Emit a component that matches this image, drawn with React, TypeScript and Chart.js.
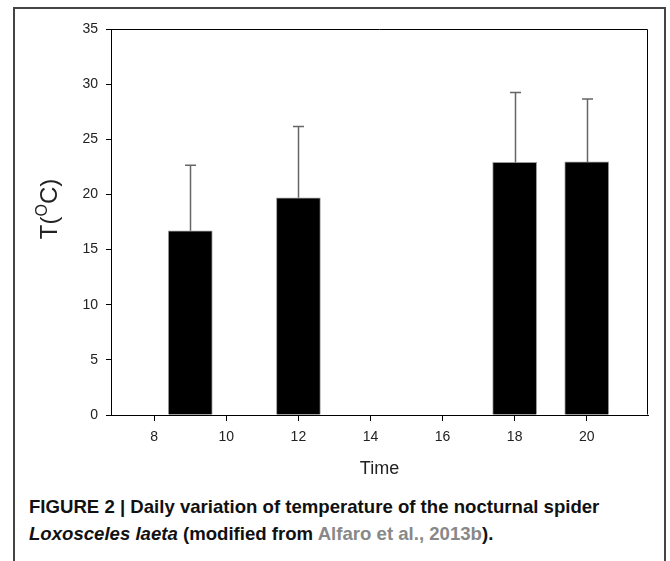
import React, { useEffect, useRef } from "react";
import { Chart, registerables } from "chart.js";

Chart.register(...registerables);

// Data
const times = [9, 12, 18, 20];
const meanTemps = [16.7, 19.7, 22.9, 22.95];
const sdTemps = [5.95, 6.45, 6.35, 5.7];
const xTicks = [8, 10, 12, 14, 16, 18, 20];
const yTicks = [0, 5, 10, 15, 20, 25, 30, 35];

const FONT = "'Liberation Sans', Arial, Helvetica, sans-serif";

const framePlugin = {
  id: "frameBox",
  afterDraw(chart: any) {
    const { ctx, chartArea } = chart;
    const l = Math.round(chartArea.left) + 0.5;
    const t = Math.round(chartArea.top) + 0.5;
    const r = Math.round(chartArea.right) - 0.5;
    const b = Math.round(chartArea.bottom) - 0.5;
    ctx.save();
    ctx.strokeStyle = "#000";
    ctx.lineWidth = 1;
    ctx.beginPath();
    ctx.moveTo(l, t);
    ctx.lineTo(r, t);
    ctx.lineTo(r, b);
    ctx.stroke();
    ctx.restore();
  },
};

const errorBarPlugin = {
  id: "errorBars",
  afterDatasetsDraw(chart: any) {
    const { ctx } = chart;
    const meta = chart.getDatasetMeta(0);
    const yScale = chart.scales.y;
    ctx.save();
    ctx.strokeStyle = "#666";
    ctx.lineWidth = 1.5;
    meta.data.forEach((bar: any, i: number) => {
      const x = Math.round(bar.x) + 0.5;
      const yTop = yScale.getPixelForValue(meanTemps[i]);
      const yErr = yScale.getPixelForValue(meanTemps[i] + sdTemps[i]);
      ctx.beginPath();
      ctx.moveTo(x, yTop);
      ctx.lineTo(x, yErr);
      ctx.moveTo(x - 5.5, yErr);
      ctx.lineTo(x + 5.5, yErr);
      ctx.stroke();
    });
    ctx.restore();
  },
};

const yTitlePlugin = {
  id: "yTitle",
  afterDraw(chart: any) {
    const { ctx } = chart;
    const cx = 50;
    const cy = 209;
    const big = `24px ${FONT}`;
    const small = `16px ${FONT}`;
    ctx.save();
    ctx.fillStyle = "#222";
    ctx.textBaseline = "middle";
    ctx.textAlign = "left";
    ctx.font = big;
    const w1 = ctx.measureText("T(").width;
    const w3 = ctx.measureText("C)").width;
    ctx.font = small;
    const w2 = ctx.measureText("O").width;
    const total = w1 + w2 + w3;
    ctx.translate(cx, cy);
    ctx.rotate(-Math.PI / 2);
    let x = -total / 2;
    ctx.font = big;
    ctx.fillText("T(", x, 0);
    x += w1;
    ctx.font = small;
    ctx.fillText("O", x, -7);
    x += w2;
    ctx.font = big;
    ctx.fillText("C)", x, 0);
    ctx.restore();
  },
};

export default function App() {
  const canvasRef = useRef<HTMLCanvasElement | null>(null);

  useEffect(() => {
    if (!canvasRef.current) return;
    const chart = new Chart(canvasRef.current, {
      type: "bar",
      data: {
        datasets: [
          {
            label: "T",
            data: times.map((t, i) => ({ x: t, y: meanTemps[i] })),
            backgroundColor: "#000",
            borderColor: "#999",
            borderWidth: 1,
            barThickness: 44,
          },
        ],
      },
      options: {
        animation: false,
        responsive: false,
        devicePixelRatio: 1,
        layout: { padding: { left: 0, top: 29, right: 22, bottom: 10 } },
        plugins: {
          legend: { display: false },
          tooltip: { enabled: false },
        },
        scales: {
          x: {
            type: "linear",
            min: 6.8,
            max: 21.7,
            offset: false,
            afterBuildTicks: (s: any) => {
              s.ticks = xTicks.map((v) => ({ value: v }));
            },
            afterFit: (s: any) => {
              s.height = 65;
            },
            ticks: {
              color: "#222",
              font: { family: FONT, size: 14 },
              padding: 8,
              maxRotation: 0,
              autoSkip: false,
            },
            grid: {
              offset: false,
              drawOnChartArea: false,
              drawTicks: true,
              tickLength: 6,
              color: "#000",
            },
            border: { display: true, color: "#000", width: 1 },
            title: {
              display: true,
              text: "Time",
              color: "#222",
              font: { family: FONT, size: 18 },
              padding: 0,
            },
          },
          y: {
            min: 0,
            max: 35,
            afterBuildTicks: (s: any) => {
              s.ticks = yTicks.map((v) => ({ value: v }));
            },
            afterFit: (s: any) => {
              s.width = 111;
            },
            ticks: {
              color: "#222",
              font: { family: FONT, size: 14 },
              padding: 8,
              autoSkip: false,
            },
            grid: {
              drawOnChartArea: false,
              drawTicks: true,
              tickLength: 5,
              color: "#000",
            },
            border: { display: true, color: "#000", width: 1 },
          },
        },
      },
      plugins: [errorBarPlugin, framePlugin, yTitlePlugin],
    } as any);
    return () => chart.destroy();
  }, []);

  return (
    <div>
      <div
        style={{
          position: "absolute",
          left: 13,
          top: 7,
          width: 653,
          height: 600,
          boxSizing: "border-box",
          borderTop: "2px solid #444",
          borderLeft: "2px solid #444",
          borderRight: "2px solid #444",
        }}
      />
      <canvas
        ref={canvasRef}
        width={670}
        height={490}
        style={{ position: "absolute", left: 0, top: 0, width: 670, height: 490 }}
      />
      <div
        style={{
          position: "absolute",
          left: 29,
          top: 493,
          width: 630,
          fontFamily: "'Liberation Sans', Arial, sans-serif",
          fontWeight: "bold",
          fontSize: 18.6,
          lineHeight: "27px",
          color: "#111",
        }}
      >
        <div>FIGURE 2 | Daily variation of temperature of the nocturnal spider</div>
        <div>
          <i>Loxosceles laeta</i> (modified from{" "}
          <span style={{ color: "#888" }}>Alfaro et al., 2013b</span>).
        </div>
      </div>
    </div>
  );
}
